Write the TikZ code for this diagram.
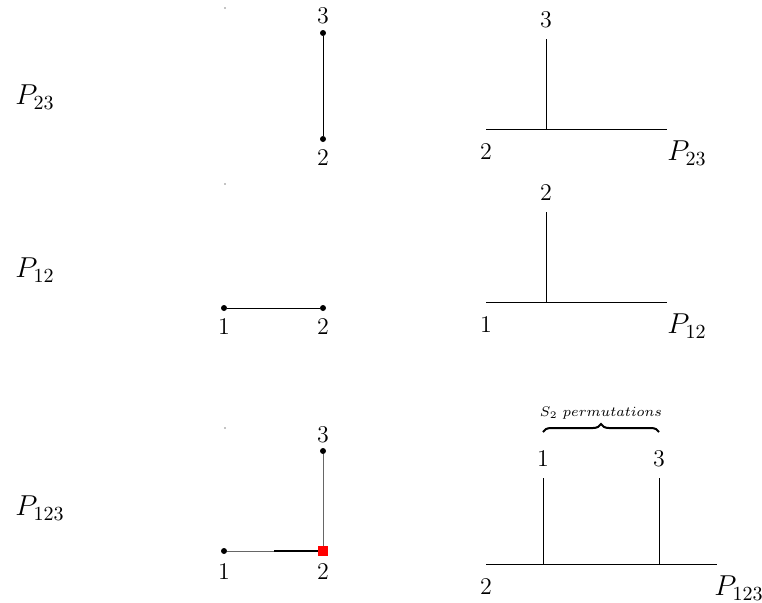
\documentclass[tikz,border=0pt]{standalone}
\usetikzlibrary{decorations.pathreplacing}
\begin{document}
\begin{tikzpicture}[x=0.5pt,y=-0.5pt,
  lbl/.style={font=\large, inner sep=0pt},
  rowlbl/.style={font=\Large, inner sep=0pt},
  vdot/.style={circle, fill=black, inner sep=0pt, minimum size=3pt},
  speck/.style={circle, fill=black, inner sep=0pt, minimum size=0.7pt},
  edge/.style={line width=0.5pt},
  tree/.style={line width=0.5pt}]
\useasboundingbox (0,0) rectangle (762,602);

% ---------- row 1 ----------
\node[rowlbl] (p23) at (35,97) {$P_{23}$};
\node[speck] (s1) at (225,8) {};
\node[vdot] (a3) at (323,33) {};
\node[vdot] (a2) at (323,139) {};
\node[lbl] (a3l) at (323,16) {3};
\node[lbl] (a2l) at (323,158) {2};
\draw[edge] (a3) -- (a2);

\coordinate (b0) at (486,129);
\coordinate (b1) at (667,129);
\coordinate (bj) at (546,129);
\coordinate (bt) at (546,39);
\draw[tree] (b0) -- (b1);
\draw[tree] (bj) -- (bt);
\node[lbl] (b3l) at (546,20) {3};
\node[lbl] (b2l) at (486,152) {2};
\node[lbl, font=\Large] (bp) at (687,153) {$P_{23}$};

% ---------- row 2 ----------
\node[rowlbl] (p12) at (35,270) {$P_{12}$};
\node[speck] (s2) at (225,184) {};
\node[vdot] (c1) at (224,308) {};
\node[vdot] (c2) at (323,308) {};
\node[lbl] (c1l) at (224,327) {1};
\node[lbl] (c2l) at (323,327) {2};
\draw[edge] (c1) -- (c2);

\coordinate (d0) at (486,302);
\coordinate (d1) at (667,302);
\coordinate (dj) at (546,302);
\coordinate (dt) at (546,212);
\draw[tree] (d0) -- (d1);
\draw[tree] (dj) -- (dt);
\node[lbl] (d2l) at (546,193) {2};
\node[lbl] (d1l) at (486,325) {1};
\node[lbl, font=\Large] (dp) at (687,326) {$P_{12}$};

% ---------- row 3 ----------
\node[rowlbl] (p123) at (40,508) {$P_{123}$};
\node[speck] (s3) at (225,428) {};
\node[vdot] (e3) at (323,451) {};
\node[vdot] (e1) at (224,551) {};
\coordinate (e2) at (323,551);
\coordinate (em) at (274,551);
\draw[edge, black!60] (e1) -- (em);
\draw[edge, black!60] (e3) -- (e2);
\draw[line width=1.1pt] (em) -- (e2);
\node[fill=red, inner sep=0pt, minimum size=5pt] (e2s) at (e2) {};
\node[lbl] (e3l) at (323,435) {3};
\node[lbl] (e1l) at (224,572) {1};
\node[lbl] (e2l) at (323,572) {2};

\coordinate (f0) at (486,564);
\coordinate (f1) at (717,564);
\coordinate (fa) at (543,564);
\coordinate (fat) at (543,478);
\coordinate (fb) at (659,564);
\coordinate (fbt) at (659,478);
\draw[tree] (f0) -- (f1);
\draw[tree] (fa) -- (fat);
\draw[tree] (fb) -- (fbt);
\node[lbl] (f1l) at (543,459) {1};
\node[lbl] (f3l) at (659,459) {3};
\node[lbl] (f2l) at (486,587) {2};
\node[lbl, font=\Large] (fp) at (739,588) {$P_{123}$};

\coordinate (ba) at (543,432);
\coordinate (bb) at (659,432);
\draw[line width=1pt, decorate, decoration={brace, amplitude=4pt}] (ba) -- (bb)
  node[midway, above=6pt, inner sep=0pt, font=\scriptsize] (perm) {$S_2\ permutations$};
\end{tikzpicture}
\end{document}
